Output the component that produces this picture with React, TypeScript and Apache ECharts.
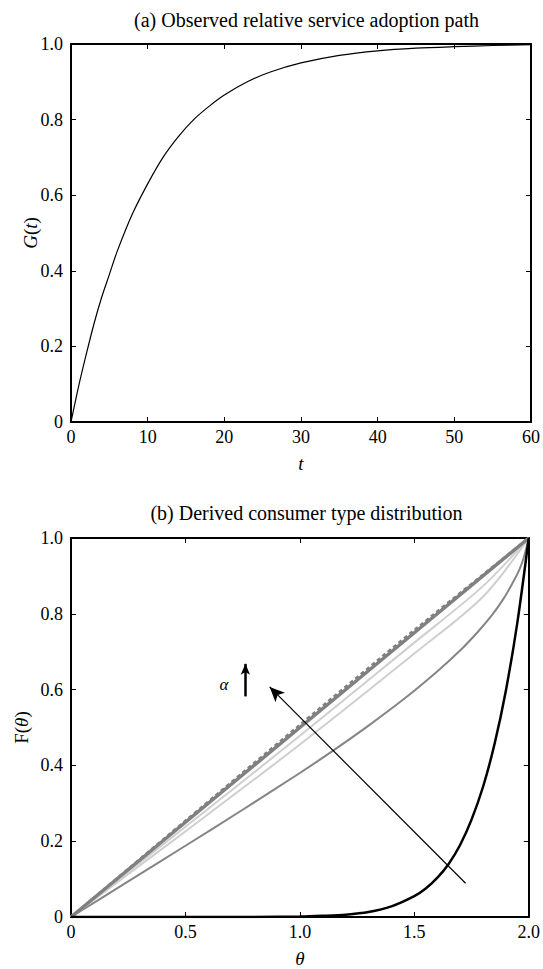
import React, { useEffect, useRef } from "react";
import * as echarts from "echarts";

// ---- Panel (a): observed adoption path ----
const tValues = [0, 1, 2, 3, 4, 5, 6, 8, 10, 12, 14, 16, 18, 20, 23, 26, 30, 35, 40, 45, 50, 55, 60];
const gValues = [0, 0.095, 0.18, 0.26, 0.33, 0.39, 0.45, 0.55, 0.63, 0.7, 0.755, 0.8, 0.835, 0.865, 0.9, 0.926, 0.95, 0.97, 0.982, 0.989, 0.993, 0.996, 0.998];

// ---- Panel (b): derived type distributions ----
const thetaDiag = [0, 0.5, 1.0, 1.5, 2.0];
const fUniform = [0, 0.25, 0.5, 0.75, 1.0];
const fUniformDashed = [0, 0.254, 0.507, 0.757, 1.0];

const thetaLight = [0, 0.5, 1.0, 1.5, 1.8, 2.0];
const fLightUpper = [0, 0.238, 0.478, 0.724, 0.873, 1.0];
const fLightLower = [0, 0.226, 0.455, 0.695, 0.845, 1.0];

const thetaMedium = [0, 0.25, 0.5, 0.75, 1.0, 1.15, 1.3, 1.45, 1.6, 1.7, 1.78, 1.84, 1.89, 1.93, 1.96, 1.98, 2.0];
const fMedium = [0, 0.094, 0.188, 0.283, 0.38, 0.441, 0.505, 0.573, 0.648, 0.703, 0.754, 0.797, 0.84, 0.882, 0.918, 0.952, 1.0];

const thetaBlack = [0, 0.8, 1.0, 1.1, 1.2, 1.3, 1.4, 1.5, 1.55, 1.6, 1.65, 1.7, 1.75, 1.8, 1.85, 1.9, 1.95, 2.0];
const fBlack = [0, 0.0001, 0.001, 0.003, 0.006, 0.013, 0.028, 0.055, 0.075, 0.103, 0.14, 0.19, 0.257, 0.343, 0.455, 0.597, 0.776, 1.0];

// annotation (data units)
const bigArrowFrom = [1.724, 0.089];
const bigArrowTo = [0.868, 0.607];
const alphaArrowFrom = [0.762, 0.582];
const alphaArrowTo = [0.762, 0.668];
const alphaLabelAt = [0.668, 0.613];

const FONT = "'Liberation Serif', 'Times New Roman', serif";

const zip = (xs: number[], ys: number[]) => xs.map((x, i) => [x, ys[i]]);

export default function App() {
  const ref = useRef<HTMLDivElement>(null);

  useEffect(() => {
    document.body.style.margin = "0";
    const chart = echarts.init(ref.current!, null, { renderer: "svg" });

    const fmt1 = (v: number) => (v === 0 ? "0" : v.toFixed(1));
    const labelStyle = { color: "#000", fontFamily: FONT, fontSize: 18, margin: 6 };
    const lineStyle = { color: "#000", width: 2 };
    const tickStyle = { show: true, inside: true, length: 5, lineStyle: { color: "#000", width: 1 } };

    const gridA = { left: 71, right: 11, top: 44, height: 378 };
    const gridB = { left: 71, right: 11, top: 538, height: 380 };

    const mkX = (gi: number, max: number, interval: number, primary: boolean, name?: any, formatter?: any) => ({
      type: "value",
      gridIndex: gi,
      min: 0,
      max,
      interval,
      position: primary ? "bottom" : "top",
      axisLine: { show: true, onZero: false, lineStyle },
      axisTick: tickStyle,
      splitLine: { show: false },
      axisLabel: primary ? { ...labelStyle, formatter } : { show: false },
      name: primary ? name : undefined,
      nameLocation: "middle",
      nameGap: 32,
      nameMoveOverlap: false,
      nameTextStyle: { color: "#000", fontFamily: FONT, fontSize: 19, fontStyle: "italic" },
    });

    const richName = {
      i: { fontFamily: FONT, fontSize: 19, fontStyle: "italic", color: "#000" },
      n: { fontFamily: FONT, fontSize: 19, color: "#000" },
    };

    const mkY = (gi: number, primary: boolean, name?: string, gap = 30) => ({
      type: "value",
      gridIndex: gi,
      min: 0,
      max: 1,
      interval: 0.2,
      position: primary ? "left" : "right",
      axisLine: { show: true, onZero: false, lineStyle },
      axisTick: tickStyle,
      splitLine: { show: false },
      axisLabel: primary ? { ...labelStyle, margin: 8, formatter: fmt1 } : { show: false },
      name: primary ? name : undefined,
      nameLocation: "middle",
      nameGap: gap,
      nameMoveOverlap: false,
      nameTextStyle: { color: "#000", fontFamily: FONT, fontSize: 19, rich: richName },
    });

    const titleStyle = { fontFamily: FONT, fontSize: 20, fontWeight: "normal", color: "#000" };

    const option: any = {
      animation: false,
      backgroundColor: "#fff",
      title: [
        { text: "(a) Observed relative service adoption path", left: 301.5, top: 5, textAlign: "center", textStyle: titleStyle },
        { text: "(b) Derived consumer type distribution", left: 301.5, top: 498, textAlign: "center", textStyle: titleStyle },
      ],
      grid: [gridA, gridB],
      xAxis: [
        mkX(0, 60, 10, true, "t", (v: number) => String(v)),
        mkX(0, 60, 10, false),
        mkX(1, 2, 0.5, true, "θ", fmt1),
        mkX(1, 2, 0.5, false),
      ],
      yAxis: [
        mkY(0, true, "{i|G}{n|(}{i|t}{n|)}", 31),
        mkY(0, false),
        mkY(1, true, "{n|F(}{i|θ}{n|)}", 40),
        mkY(1, false),
      ],
      series: [
        {
          type: "line",
          xAxisIndex: 0,
          yAxisIndex: 0,
          data: zip(tValues, gValues),
          smooth: 0.3,
          showSymbol: false,
          lineStyle: { color: "#000", width: 1.2 },
        },
        {
          type: "line",
          xAxisIndex: 2,
          yAxisIndex: 2,
          data: zip(thetaMedium, fMedium),
          smooth: 0.3,
          showSymbol: false,
          lineStyle: { color: "#858585", width: 2 },
        },
        {
          type: "line",
          xAxisIndex: 2,
          yAxisIndex: 2,
          data: zip(thetaLight, fLightLower),
          smooth: 0.3,
          showSymbol: false,
          lineStyle: { color: "#cfcfcf", width: 2 },
        },
        {
          type: "line",
          xAxisIndex: 2,
          yAxisIndex: 2,
          data: zip(thetaLight, fLightUpper),
          smooth: 0.3,
          showSymbol: false,
          lineStyle: { color: "#cfcfcf", width: 2 },
        },
        {
          type: "line",
          xAxisIndex: 2,
          yAxisIndex: 2,
          data: zip(thetaDiag, fUniformDashed),
          smooth: 0.3,
          showSymbol: false,
          lineStyle: { color: "#808080", width: 2.5, type: [4, 3] },
        },
        {
          type: "line",
          xAxisIndex: 2,
          yAxisIndex: 2,
          data: zip(thetaDiag, fUniform),
          showSymbol: false,
          lineStyle: { color: "#808080", width: 3.5 },
        },
        {
          type: "line",
          xAxisIndex: 2,
          yAxisIndex: 2,
          data: zip(thetaBlack, fBlack),
          smooth: 0.3,
          showSymbol: false,
          lineStyle: { color: "#000", width: 2.5 },
          markLine: {
            silent: true,
            symbol: ["none", "arrow"],
            label: { show: false },
            data: [
              [
                { coord: bigArrowFrom, symbolSize: [10, 15], lineStyle: { color: "#000", width: 1.2, type: "solid" } },
                { coord: bigArrowTo, symbolSize: [10, 15] },
              ],
              [
                { coord: alphaArrowFrom, symbolSize: [7, 11], lineStyle: { color: "#000", width: 2.5, type: "solid" } },
                { coord: alphaArrowTo, symbolSize: [7, 11] },
              ],
            ],
          },
          markPoint: {
            silent: true,
            symbol: "circle",
            symbolSize: 0,
            label: {
              show: true,
              position: "inside",
              formatter: "α",
              fontFamily: FONT,
              fontStyle: "italic",
              fontSize: 17,
              color: "#000",
            },
            data: [{ coord: alphaLabelAt }],
          },
        },
      ],
    };

    chart.setOption(option);
    return () => chart.dispose();
  }, []);

  return <div ref={ref} style={{ width: 543, height: 969 }} />;
}
